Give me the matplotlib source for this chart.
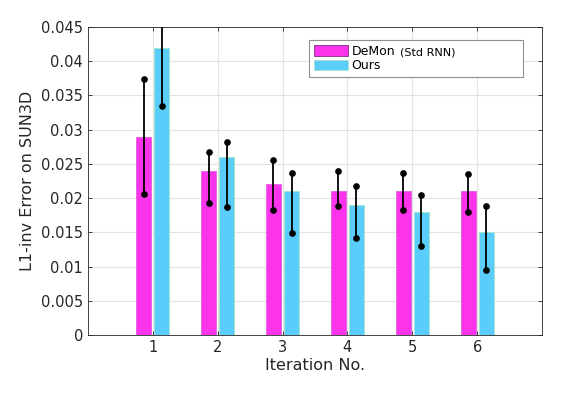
import numpy as np
import matplotlib.pyplot as plt

iterations = [1, 2, 3, 4, 5, 6]
demon = [0.029, 0.024, 0.022, 0.021, 0.021, 0.021]
ours = [0.042, 0.026, 0.021, 0.019, 0.018, 0.015]
# error bar end points (lower, upper)
demon_lo = [0.0206, 0.0193, 0.0182, 0.0188, 0.0182, 0.0180]
demon_hi = [0.0374, 0.0267, 0.0256, 0.0239, 0.0237, 0.0235]
ours_lo = [0.0335, 0.0187, 0.0149, 0.0141, 0.0130, 0.0095]
ours_hi = [0.0505, 0.0282, 0.0237, 0.0217, 0.0205, 0.0189]
yticks = [0, 0.005, 0.01, 0.015, 0.02, 0.025, 0.03, 0.035, 0.04, 0.045]

magenta = '#fb34ec'
cyan = '#5bcdfa'
dark = '#262626'

fig = plt.figure(figsize=(5.75, 3.93), dpi=100)
ax = fig.add_axes([0.153, 0.1476, 0.7896, 0.7837])

x = np.array(iterations, dtype=float)
w = 0.23
off = 0.14
ax.bar(x - off, demon, w, color=magenta, edgecolor='#e060e0', linewidth=0.6,
       label='DeMon', zorder=2)
ax.bar(x + off, ours, w, color=cyan, edgecolor='#a8e6c8', linewidth=0.6,
       label='Ours', zorder=2)

for xs, lo, hi in [(x - off, demon_lo, demon_hi), (x + off, ours_lo, ours_hi)]:
    for xi, l, h in zip(xs, lo, hi):
        ax.plot([xi, xi], [l, h], color='black', linewidth=1.3, marker='o',
                markersize=3.8, zorder=3)

ax.set_xlim(0, 7)
ax.set_ylim(0, 0.045)
ax.set_xticks(iterations)
ax.set_yticks(yticks)
ax.set_yticklabels(['0', '0.005', '0.01', '0.015', '0.02', '0.025', '0.03',
                    '0.035', '0.04', '0.045'])
ax.grid(True, color='#e3e3e3', linewidth=0.8, zorder=0)
ax.set_axisbelow(True)
ax.tick_params(direction='in', top=True, right=True, length=3, labelsize=10.5,
               colors=dark, width=0.6)
for s in ax.spines.values():
    s.set_color(dark)
    s.set_linewidth(0.6)
ax.set_xlabel('Iteration No.', fontsize=11.5, color=dark, labelpad=2)
ax.set_ylabel('L1-inv Error on SUN3D', fontsize=11.5, color=dark, labelpad=4)

leg = ax.legend(loc='upper left', bbox_to_anchor=(0.487, 0.958, 0.471, 0),
                mode='expand', fontsize=9, fancybox=False,
                edgecolor='#909090', framealpha=1,
                handlelength=2.7, handleheight=0.9, handletextpad=0.3,
                borderpad=0.38, labelspacing=0.12, borderaxespad=0)
leg.get_frame().set_linewidth(0.8)
leg.legend_handles[0].set_edgecolor('#803080')
for t in leg.get_texts():
    t.set_color('black')

# smaller "(Std RNN)" after the DeMon entry
fig.canvas.draw()
r = fig.canvas.get_renderer()
bb = leg.get_texts()[0].get_window_extent(r)
fig.text(bb.x1 + 5, (bb.y0 + bb.y1) / 2 - 1, '(Std RNN)', fontsize=8.1,
         va='center', ha='left', transform=None)

fig.savefig('out.png', dpi=100)
